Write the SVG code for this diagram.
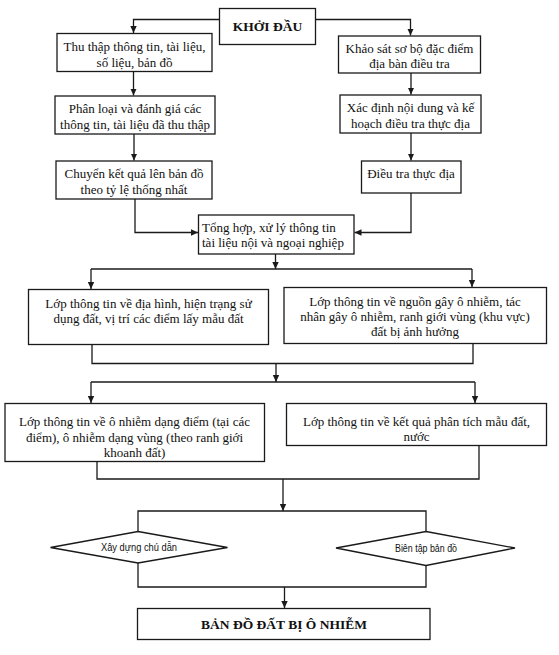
<svg xmlns="http://www.w3.org/2000/svg" width="559" height="655" viewBox="0 0 559 655">
<defs>
<marker id="ah" markerWidth="8" markerHeight="8" refX="7" refY="4" orient="auto" markerUnits="userSpaceOnUse">
<path d="M0,0.8 L7,4 L0,7.2 Z" fill="#1a1a1a"/>
</marker>
<style>
.box{fill:#fff;stroke:#1a1a1a;stroke-width:1.3}
.t{font-family:"Liberation Serif","Times New Roman",serif;font-size:13px;fill:#111;text-anchor:middle}
.tl{text-anchor:start}
.b{font-weight:bold;font-size:13.5px}
.d{font-family:"Liberation Sans Narrow","Liberation Sans",Arial,sans-serif;font-size:10.5px;fill:#111;text-anchor:middle}
.c{fill:none;stroke:#1a1a1a;stroke-width:1.3}
.a{marker-end:url(#ah)}
</style>
</defs>
<rect width="559" height="655" fill="#fff"/>
<g id="connectors">
<path class="c a" d="M219.5,19.5 H133.5 V33"/>
<path class="c a" d="M315.5,19.5 H410.5 V35.5"/>
<path class="c a" d="M133.5,71.5 V95.5"/>
<path class="c a" d="M134,134 V160.5"/>
<path class="c a" d="M411,73 V94.5"/>
<path class="c a" d="M411,133 V160.5"/>
<path class="c a" d="M135,199 V232.5 H198"/>
<path class="c a" d="M411,193 V232.5 H354.5"/>
<path class="c a" d="M275.5,254 V269"/>
<path class="c" d="M91,269 H472"/>
<path class="c a" d="M91,269 V289"/>
<path class="c a" d="M472,269 V287"/>
<path class="c" d="M92,344.5 V363.5 H473 V343.5"/>
<path class="c a" d="M276,363.5 V382"/>
<path class="c" d="M91,382 H475"/>
<path class="c a" d="M91,382 V403"/>
<path class="c a" d="M475,382 V403"/>
<path class="c" d="M97,461.5 V479 H479 V445.5"/>
<path class="c a" d="M283,479 V511"/>
<path class="c" d="M138,531.5 V511 H426 V531.5"/>
<path class="c" d="M138,563 V587 H426 V565.5"/>
<path class="c a" d="M284.5,587 V608"/>
</g>
<g id="start"><rect class="box" x="219.5" y="8.5" width="96" height="36"/><text class="t b" x="267.5" y="31">KHỞI ĐẦU</text></g>
<g id="a1"><rect class="box" x="57" y="33.5" width="155" height="38"/><text class="t" x="134.5" y="51">Thu thập thông tin, tài liệu,</text><text class="t" x="134.5" y="67">số liệu, bản đồ</text></g>
<g id="a2"><rect class="box" x="55" y="96" width="160" height="38"/><text class="t" x="135" y="113">Phân loại và đánh giá các</text><text class="t" x="135" y="129">thông tin, tài liệu đã thu thập</text></g>
<g id="a3"><rect class="box" x="56" y="161" width="156" height="38"/><text class="t" x="134" y="178">Chuyển kết quả lên bản đồ</text><text class="t" x="134" y="193.5">theo tỷ lệ thống nhất</text></g>
<g id="b1"><rect class="box" x="338.5" y="36" width="142" height="37"/><text class="t" x="409.5" y="53">Khảo sát sơ bộ đặc điểm</text><text class="t" x="409.5" y="68">địa bàn điều tra</text></g>
<g id="b2"><rect class="box" x="340" y="95" width="141" height="38"/><text class="t" x="410.5" y="112">Xác định nội dung và kế</text><text class="t" x="410.5" y="128">hoạch điều tra thực địa</text></g>
<g id="b3"><rect class="box" x="361.5" y="161" width="99.5" height="32"/><text class="t" x="411" y="178">Điều tra thực địa</text></g>
<g id="merge"><rect class="box" x="198.5" y="215" width="155.5" height="39"/><text class="t tl" x="202" y="232">Tổng hợp, xử lý thông tin</text><text class="t tl" x="202" y="247">tài liệu nội và ngoại nghiệp</text></g>
<g id="l1"><rect class="box" x="28.5" y="289.5" width="240" height="55"/><text class="t" x="148.5" y="308">Lớp thông tin về địa hình, hiện trạng sử</text><text class="t" x="148.5" y="323">dụng đất, vị trí các điểm lấy mẫu đất</text></g>
<g id="r4"><rect class="box" x="284" y="287.5" width="262.5" height="56"/><text class="t" x="415" y="306">Lớp thông tin về nguồn gây ô nhiễm, tác</text><text class="t" x="415" y="321">nhân gây ô nhiễm, ranh giới vùng (khu vực)</text><text class="t" x="415" y="336">đất bị ảnh hưởng</text></g>
<g id="l2"><rect class="box" x="5" y="403.5" width="259.5" height="58"/><text class="t" x="134.5" y="426">Lớp thông tin về ô nhiễm dạng điểm (tại các</text><text class="t" x="134.5" y="441.5">điểm), ô nhiễm dạng vùng (theo ranh giới</text><text class="t" x="134.5" y="457">khoanh đất)</text></g>
<g id="r5"><rect class="box" x="286.5" y="403.5" width="260" height="42"/><text class="t" x="416.5" y="426">Lớp thông tin về kết quả phân tích mẫu đất,</text><text class="t" x="416.5" y="441">nước</text></g>
<g id="d1"><polygon class="box" points="138,531.5 227.5,547.5 138,563 50.5,547.5"/><text class="d" x="139" y="551" textLength="76" lengthAdjust="spacingAndGlyphs">Xây dựng chú dẫn</text></g>
<g id="d2"><polygon class="box" points="426,531.5 515,548 426,565.5 336,548"/><text class="d" x="426" y="551.5" textLength="62" lengthAdjust="spacingAndGlyphs">Biên tập bản đồ</text></g>
<g id="end"><rect class="box" x="137.5" y="608.5" width="292.5" height="31"/><text class="t b" x="284" y="629">BẢN ĐỒ ĐẤT BỊ Ô NHIỄM</text></g>
</svg>
